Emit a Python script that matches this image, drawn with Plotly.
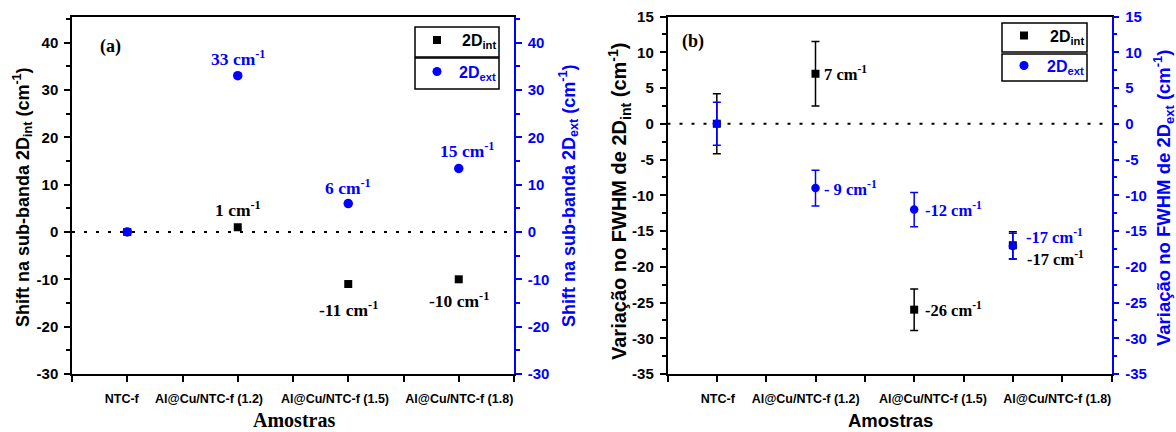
import plotly.graph_objects as go

W, H = 1176, 432
BLUE = "#0000FF"

# ---------------- data ----------------
categories = ["NTC-f", "Al@Cu/NTC-f (1.2)", "Al@Cu/NTC-f (1.5)", "Al@Cu/NTC-f (1.8)"]

# panel (a): shift of sub-bands
shift_int = [0, 1, -11, -10]
shift_ext = [0, 33, 6, 13.4]
labels_shift_int = ["", "1 cm<sup>-1</sup>", "-11 cm<sup>-1</sup>", "-10 cm<sup>-1</sup>"]
labels_shift_ext = ["", "33 cm<sup>-1</sup>", "6 cm<sup>-1</sup>", "15 cm<sup>-1</sup>"]
ticks_a = [-30, -20, -10, 0, 10, 20, 30, 40]

# panel (b): FWHM variation with error bars
fwhm_int = [0, 7, -26, -17]
fwhm_int_err = [4.2, 4.5, 2.9, 1.9]
fwhm_ext = [0, -9, -12, -17.1]
fwhm_ext_err = [3.0, 2.5, 2.4, 1.8]
labels_fwhm_int = ["", "7 cm<sup>-1</sup>", "-26 cm<sup>-1</sup>", "-17 cm<sup>-1</sup>"]
labels_fwhm_ext = ["", "- 9 cm<sup>-1</sup>", "-12 cm<sup>-1</sup>", "-17 cm<sup>-1</sup>"]
ticks_b = [-35, -30, -25, -20, -15, -10, -5, 0, 5, 10, 15]

xi = list(range(len(categories)))

# layout: horizontal nudges of category labels (to avoid overlap, as in the original)
label_nudge_a = [-0.05, -0.26, -0.12, 0.005]
label_nudge_b = [0.01, -0.10, 0.19, 0.45]


def px(x):
    return x / W


def py(y):
    return 1 - y / H


fig = go.Figure()

# ---- panel (a)
fig.add_trace(go.Scatter(x=xi, y=shift_int, mode="markers", xaxis="x", yaxis="y",
                         marker=dict(symbol="square", size=8, color="black"),
                         showlegend=False))
fig.add_trace(go.Scatter(x=xi, y=shift_ext, mode="markers", xaxis="x", yaxis="y2",
                         marker=dict(symbol="circle", size=9.5, color=BLUE),
                         showlegend=False))

# ---- panel (b)
fig.add_trace(go.Scatter(x=xi, y=fwhm_int, mode="markers", xaxis="x2", yaxis="y3",
                         marker=dict(symbol="square", size=8, color="black"),
                         error_y=dict(type="data", array=fwhm_int_err, color="black",
                                      thickness=1.5, width=4),
                         showlegend=False))
fig.add_trace(go.Scatter(x=xi, y=fwhm_ext, mode="markers", xaxis="x2", yaxis="y4",
                         marker=dict(symbol="circle", size=8.5, color=BLUE),
                         error_y=dict(type="data", array=fwhm_ext_err, color=BLUE,
                                      thickness=1.5, width=4),
                         showlegend=False))

tickfont_k = dict(family="Liberation Sans", size=15, color="black", weight="bold")
tickfont_b = dict(family="Liberation Sans", size=15, color=BLUE, weight="bold")
xtickfont = dict(family="Liberation Sans", size=12.5, color="black", weight="bold")

ydom = [py(374), py(16.5)]
dom_a = [px(72), px(514)]
dom_b = [px(667.5), px(1111.5)]


def xaxis_cfg(domain, anchor, rng, nudge):
    minor_vals = [v / 2 for v in range(int(rng[0] * 2), int(rng[1] * 2) + 1)]
    return dict(domain=domain, anchor=anchor, range=rng, automargin=False,
                tickmode="array", tickvals=[i + n for i, n in zip(xi, nudge)],
                ticktext=categories, tickangle=0,
                tickfont=xtickfont, ticks="outside", ticklen=0, tickwidth=0.01,
                tickcolor="black", ticklabelstandoff=12,
                minor=dict(tickmode="array", tickvals=minor_vals, ticks="outside",
                           ticklen=6, tickwidth=1.5, tickcolor="black"),
                showline=True, linecolor="black", linewidth=1.5, mirror=True,
                showgrid=False, zeroline=False, fixedrange=True)


def yaxis_cfg(domain, anchor, rng, tvals, color, font, side="left", overlaying=None):
    step = tvals[1] - tvals[0]
    d = dict(domain=domain, anchor=anchor, range=rng, side=side, automargin=False,
             tickmode="array", tickvals=tvals, ticktext=[str(v) for v in tvals],
             tickfont=font, ticks="outside", ticklen=6, tickwidth=1.5, tickcolor=color,
             ticklabelstandoff=3,
             minor=dict(tickmode="linear", dtick=step / 2, tick0=0, ticks="outside", ticklen=4,
                        tickwidth=1.5, tickcolor=color),
             showline=True, linecolor=color, linewidth=1.5, mirror=False,
             showgrid=False, zeroline=False, fixedrange=True)
    if overlaying:
        d["overlaying"] = overlaying
    return d


fig.update_layout(
    width=W, height=H,
    margin=dict(l=0, r=0, t=0, b=0, autoexpand=False),
    paper_bgcolor="white", plot_bgcolor="white",
    showlegend=False,
    xaxis=xaxis_cfg(dom_a, "y", [-0.5, 3.5], label_nudge_a),
    yaxis=yaxis_cfg(ydom, "x", [-30, 45.5], ticks_a, "black", tickfont_k),
    yaxis2=yaxis_cfg(ydom, "x", [-30, 45.5], ticks_a, BLUE, tickfont_b, side="right", overlaying="y"),
    xaxis2=xaxis_cfg(dom_b, "y3", [-0.5, 4.0], label_nudge_b),
    yaxis3=yaxis_cfg(ydom, "x2", [-35, 15], ticks_b, "black", tickfont_k),
    yaxis4=yaxis_cfg(ydom, "x2", [-35, 15], ticks_b, BLUE, tickfont_b, side="right", overlaying="y3"),
)

# zero dotted lines
for xr, yr in [("x domain", "y"), ("x2 domain", "y3")]:
    fig.add_shape(type="line", xref=xr, yref=yr, x0=0, x1=1, y0=0, y1=0,
                  line=dict(color="black", width=2, dash="3px,9px"), layer="below")

annots = []
serif = "Liberation Serif"
sans = "Liberation Sans"

# panel (a) point labels
shifts_int_a = [(0, 0), (0, 18), (0, -25), (0, -21)]
shifts_ext_a = [(0, 0), (0, 18), (0, 17), (8, 19)]
for i in xi:
    if labels_shift_int[i]:
        annots.append(dict(x=xi[i], y=shift_int[i], xref="x", yref="y",
                           xanchor="center", yanchor="middle",
                           text="<b>" + labels_shift_int[i] + "</b>", showarrow=False,
                           xshift=shifts_int_a[i][0], yshift=shifts_int_a[i][1],
                           font=dict(family=serif, size=17.5, color="black")))
    if labels_shift_ext[i]:
        annots.append(dict(x=xi[i], y=shift_ext[i], xref="x", yref="y2",
                           xanchor="center", yanchor="middle",
                           text="<b>" + labels_shift_ext[i] + "</b>", showarrow=False,
                           xshift=shifts_ext_a[i][0], yshift=shifts_ext_a[i][1],
                           font=dict(family=serif, size=17.5, color=BLUE)))

# panel (b) point labels
shifts_int_b = [(0, 0), (7, 0), (9, 0), (12, -13)]
shifts_ext_b = [(0, 0), (7, 0), (9, 0), (11, 10)]
for i in xi:
    if labels_fwhm_int[i]:
        annots.append(dict(x=xi[i], y=fwhm_int[i], xref="x2", yref="y3",
                           text="<b>" + labels_fwhm_int[i] + "</b>", showarrow=False,
                           xanchor="left", yanchor="middle",
                           xshift=shifts_int_b[i][0], yshift=shifts_int_b[i][1],
                           font=dict(family=serif, size=16.5, color="black")))
    if labels_fwhm_ext[i]:
        annots.append(dict(x=xi[i], y=fwhm_ext[i], xref="x2", yref="y4",
                           text="<b>" + labels_fwhm_ext[i] + "</b>", showarrow=False,
                           xanchor="left", yanchor="middle",
                           xshift=shifts_ext_b[i][0], yshift=shifts_ext_b[i][1],
                           font=dict(family=serif, size=16.5, color=BLUE)))


def pa(x, y, text, font, angle=0, xanchor="center"):
    return dict(x=px(x), y=py(y), xref="paper", yref="paper", text=text,
                showarrow=False, xanchor=xanchor, yanchor="middle",
                textangle=angle, font=font)


# panel letters
annots.append(pa(111, 46, "<b>(a)</b>", dict(family=serif, size=18, color="black")))
annots.append(pa(693, 42, "<b>(b)</b>", dict(family=serif, size=18, color="black")))

# axis titles
annots += [
    pa(22, 197, "<b>Shift na sub-banda 2D<sub>int</sub> (cm<sup>-1</sup>)</b>",
       dict(family=sans, size=18, color="black"), angle=-90),
    pa(568, 196, "<b>Shift na sub-banda 2D<sub>ext</sub> (cm<sup>-1</sup>)</b>",
       dict(family=sans, size=18, color=BLUE), angle=-90),
    pa(619, 202, "<b>Variação no FWHM de 2D<sub>int</sub> (cm<sup>-1</sup>)</b>",
       dict(family=sans, size=20, color="black"), angle=-90),
    pa(1164, 198, "<b>Variação no FWHM de 2D<sub>ext</sub> (cm<sup>-1</sup>)</b>",
       dict(family=sans, size=18.5, color=BLUE), angle=-90),
    pa(294, 420, "<b>Amostras</b>", dict(family=serif, size=20, color="black")),
    pa(890, 420, "<b>Amostras</b>", dict(family=sans, size=18.5, color="black")),
]

# custom legends (two stacked boxes each)
legend_boxes = [
    # (x0, x1, top1, bot1, top2, bot2)
    (415, 499, 27, 57, 58, 89),
    (1002, 1087, 23, 52, 54, 81),
]
for (x0, x1, t1, b1, t2, b2) in legend_boxes:
    for (tt, bb) in [(t1, b1), (t2, b2)]:
        fig.add_shape(type="rect", xref="paper", yref="paper",
                      x0=px(x0), x1=px(x1), y0=py(bb), y1=py(tt),
                      line=dict(color="black", width=1.5), fillcolor="white")
    sx = x0 + 22
    c1 = (t1 + b1) / 2 - 2
    c2 = (t2 + b2) / 2 - 2
    fig.add_shape(type="rect", xref="paper", yref="paper",
                  x0=px(sx - 4), x1=px(sx + 4), y0=py(c1 + 4), y1=py(c1 - 4),
                  line=dict(width=0), fillcolor="black")
    fig.add_shape(type="circle", xref="paper", yref="paper",
                  x0=px(sx - 4.5), x1=px(sx + 4.5), y0=py(c2 + 4.5), y1=py(c2 - 4.5),
                  line=dict(width=0), fillcolor=BLUE)
    annots.append(pa(x1 - 1, c1 + 2, "<b>2D<sub>int</sub></b>",
                     dict(family=sans, size=16, color="black"), xanchor="right"))
    annots.append(pa(x1 - 1, c2 + 2, "<b>2D<sub>ext</sub></b>",
                     dict(family=sans, size=16, color=BLUE), xanchor="right"))

fig.update_layout(annotations=annots)

fig.write_html("out.html")
